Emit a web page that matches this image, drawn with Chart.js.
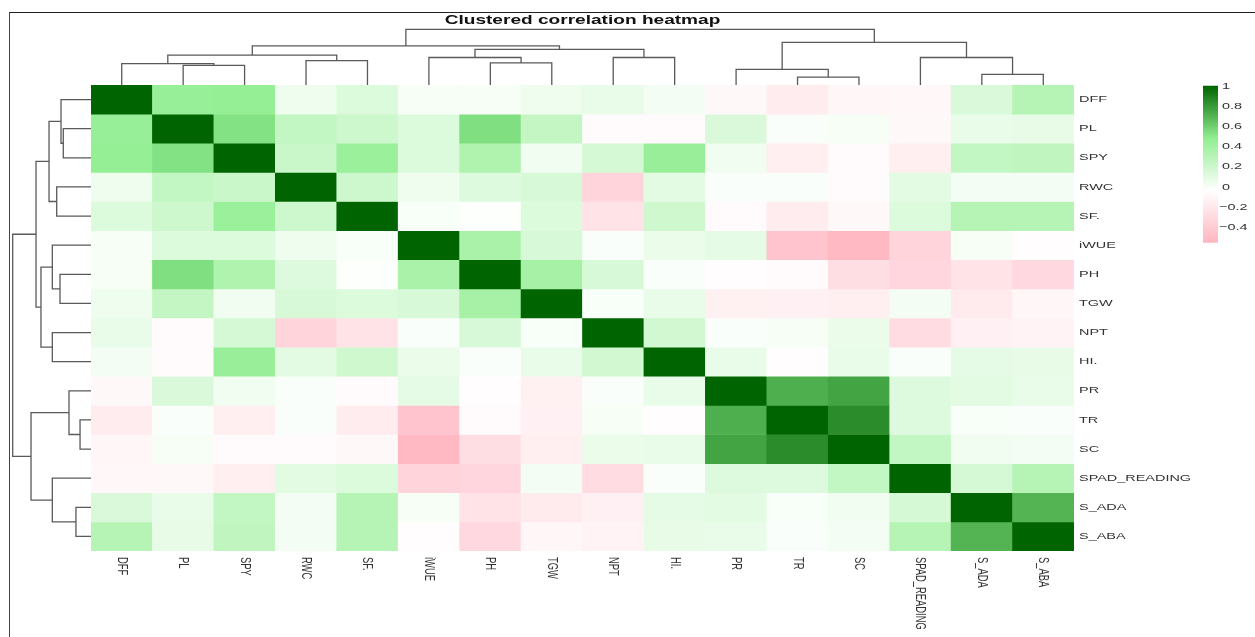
<!DOCTYPE html>
<html>
<head>
<meta charset="utf-8">
<script src="https://cdn.jsdelivr.net/npm/chart.js@4.4.1/dist/chart.umd.min.js"></script>
<style>
  html, body { margin: 0; padding: 0; background: #fff; }
  #page { position: relative; width: 1255px; height: 637px; overflow: hidden; background: #fff; }
  #page canvas { position: absolute; }
  #frame { position: absolute; left: 9px; top: 12px; width: 1300px; height: 700px;
           border-top: 1.5px solid #222; border-left: 1.5px solid #444; }
</style>
</head>
<body>
<div id="page">
  <div id="frame"></div>
  <canvas id="heat" width="1255" height="637" style="left:0;top:0"></canvas>
  <canvas id="dTop" width="983" height="62" style="left:91px;top:23px"></canvas>
  <canvas id="dLeft" width="83" height="466" style="left:8px;top:85px"></canvas>
  <canvas id="legend" width="52" height="170" style="left:1203px;top:80px"></canvas>
</div>
<script>
// ---------------- DATA ----------------
const titleText = 'Clustered correlation heatmap';
const variables = ['DFF','PL','SPY','RWC','SF.','iWUE','PH','TGW','NPT','HI.','PR','TR','SC','SPAD_READING','S_ADA','S_ABA'];

// correlation rows, columns in the same order as `variables`
const rowDFF   = [ 1.00, 0.45, 0.46, 0.04, 0.13, 0.01, 0.01, 0.04, 0.07, 0.02,-0.08,-0.17,-0.10,-0.09, 0.14, 0.31];
const rowPL    = [ 0.45, 1.00, 0.53, 0.25, 0.20, 0.13, 0.54, 0.24,-0.06,-0.06, 0.14,-0.01, 0.01,-0.08, 0.07, 0.08];
const rowSPY   = [ 0.46, 0.53, 1.00, 0.22, 0.43, 0.13, 0.34, 0.03, 0.16, 0.44, 0.03,-0.15,-0.06,-0.15, 0.25, 0.26];
const rowRWC   = [ 0.04, 0.25, 0.22, 1.00, 0.20, 0.04, 0.12, 0.15,-0.34, 0.10,-0.01,-0.01,-0.07, 0.10, 0.02, 0.02];
const rowSF    = [ 0.13, 0.20, 0.43, 0.20, 1.00, 0.00,-0.02, 0.13,-0.23, 0.19,-0.06,-0.17,-0.08, 0.13, 0.31, 0.31];
const rowIWUE  = [ 0.01, 0.13, 0.13, 0.04, 0.00, 1.00, 0.36, 0.15,-0.01, 0.06, 0.09,-0.45,-0.53,-0.34, 0.01,-0.05];
const rowPH    = [ 0.01, 0.54, 0.34, 0.12,-0.02, 0.36, 1.00, 0.38, 0.15,-0.01,-0.05,-0.06,-0.27,-0.32,-0.23,-0.30];
const rowTGW   = [ 0.04, 0.24, 0.03, 0.15, 0.13, 0.15, 0.38, 1.00, 0.00, 0.07,-0.14,-0.13,-0.15, 0.02,-0.18,-0.10];
const rowNPT   = [ 0.07,-0.06, 0.16,-0.34,-0.23,-0.01, 0.15, 0.00, 1.00, 0.18,-0.01, 0.01, 0.06,-0.28,-0.13,-0.12];
const rowHI    = [ 0.02,-0.06, 0.44, 0.10, 0.19, 0.06,-0.01, 0.07, 0.18, 1.00, 0.07,-0.05, 0.07,-0.01, 0.09, 0.08];
const rowPR    = [-0.08, 0.14, 0.03,-0.01,-0.06, 0.09,-0.05,-0.14,-0.01, 0.07, 1.00, 0.72, 0.76, 0.12, 0.10, 0.07];
const rowTR    = [-0.17,-0.01,-0.15,-0.01,-0.17,-0.45,-0.06,-0.13, 0.01,-0.05, 0.72, 1.00, 0.85, 0.12, 0.00,-0.01];
const rowSC    = [-0.10, 0.01,-0.06,-0.07,-0.08,-0.53,-0.27,-0.15, 0.06, 0.07, 0.76, 0.85, 1.00, 0.25, 0.03, 0.02];
const rowSPAD  = [-0.09,-0.08,-0.15, 0.10, 0.13,-0.34,-0.32, 0.02,-0.28,-0.01, 0.12, 0.12, 0.25, 1.00, 0.16, 0.31];
const rowSADA  = [ 0.14, 0.07, 0.25, 0.02, 0.31, 0.01,-0.23,-0.18,-0.13, 0.09, 0.10, 0.00, 0.03, 0.16, 1.00, 0.70];
const rowSABA  = [ 0.31, 0.08, 0.26, 0.02, 0.31,-0.05,-0.30,-0.10,-0.12, 0.08, 0.07,-0.01, 0.02, 0.31, 0.70, 1.00];
const corrRows = [rowDFF,rowPL,rowSPY,rowRWC,rowSF,rowIWUE,rowPH,rowTGW,rowNPT,rowHI,rowPR,rowTR,rowSC,rowSPAD,rowSADA,rowSABA];

// colour scale (range of the data) and palette
const colorRange = [-0.55, 1];
const paletteColors = ['#FFB6C1', '#FFFFFF', '#90EE90', '#006400'];
const legendTicks = [1, 0.8, 0.6, 0.4, 0.2, 0, -0.2, -0.4];

// hierarchical clustering merges: [child A, child B, height (fraction of root)]
// children are variable names or earlier merges 'm1', 'm2', ...
const merges = [
  ['PL', 'SPY', 0.354],          // m1
  ['DFF', 'm1', 0.383],          // m2
  ['RWC', 'SF.', 0.438],         // m3
  ['m2', 'm3', 0.536],           // m4
  ['PH', 'TGW', 0.396],          // m5
  ['iWUE', 'm5', 0.494],         // m6
  ['NPT', 'HI.', 0.494],         // m7
  ['m6', 'm7', 0.639],           // m8
  ['m4', 'm8', 0.702],           // m9
  ['TR', 'SC', 0.140],           // m10
  ['PR', 'm10', 0.281],          // m11
  ['S_ADA', 'S_ABA', 0.192],     // m12
  ['SPAD_READING', 'm12', 0.494],// m13
  ['m11', 'm13', 0.766],         // m14
  ['m9', 'm14', 1.000]           // m15
];

// ---------------- HELPERS ----------------
Chart.defaults.font.family = "'Liberation Sans', Arial, sans-serif";
const TEXT_SX = 1.54;       // horizontal stretch of the original picture's text
const LABEL_FONT = "9.4px 'Liberation Sans', Arial, sans-serif";

function hexToRgb(h) {
  const n = parseInt(h.slice(1), 16);
  return [(n >> 16) & 255, (n >> 8) & 255, n & 255];
}
const paletteRgb = paletteColors.map(hexToRgb);
function corrColor(v) {
  const [lo, hi] = colorRange;
  const t = Math.min(1, Math.max(0, (v - lo) / (hi - lo))) * (paletteRgb.length - 1);
  const i = Math.min(Math.floor(t), paletteRgb.length - 2);
  const f = t - i;
  const a = paletteRgb[i], b = paletteRgb[i + 1];
  const c = a.map((x, k) => Math.round(x + (b[k] - x) * f));
  return `rgb(${c[0]},${c[1]},${c[2]})`;
}
function drawStretched(ctx, text, x, y, rotate) {
  ctx.save();
  ctx.translate(x, y);
  ctx.scale(TEXT_SX, 1);
  if (rotate) ctx.rotate(Math.PI / 2);
  ctx.fillText(text, 0, 0);
  ctx.restore();
}

// dendrogram geometry from merges
function dendroSegments() {
  const nodes = [];
  const lookup = (id) => {
    const idx = variables.indexOf(id);
    if (idx >= 0) return { pos: idx, h: 0 };
    return nodes[parseInt(id.slice(1), 10) - 1];
  };
  const segs = [];
  merges.forEach(([a, b, h]) => {
    const na = lookup(a), nb = lookup(b);
    segs.push([[na.pos, na.h], [na.pos, h], [nb.pos, h], [nb.pos, nb.h]]);
    nodes.push({ pos: (na.pos + nb.pos) / 2, h });
  });
  return segs;
}
const segments = dendroSegments();
const lineStyle = { showLine: true, pointRadius: 0, borderColor: '#5a5a5a', borderWidth: 1.3, tension: 0, fill: false };
const baseOpts = {
  responsive: false, animation: false, events: [],
  plugins: { legend: { display: false }, tooltip: { enabled: false }, title: { display: false } }
};

// ---------------- HEATMAP ----------------
const heatLabels = {
  id: 'heatLabels',
  afterDraw(chart) {
    const { ctx, chartArea, scales } = chart;
    ctx.save();
    // title
    ctx.fillStyle = '#111';
    ctx.font = "bold 12.4px 'Liberation Sans', Arial, sans-serif";
    ctx.textAlign = 'center';
    ctx.textBaseline = 'alphabetic';
    drawStretched(ctx, titleText, (chartArea.left + chartArea.right) / 2, 24, false);
    // row labels (right)
    ctx.fillStyle = '#333';
    ctx.font = LABEL_FONT;
    ctx.textAlign = 'left';
    ctx.textBaseline = 'middle';
    variables.forEach((name, r) => {
      drawStretched(ctx, name, chartArea.right + 5, scales.y.getPixelForValue(r + 0.5), false);
    });
    // column labels (bottom, rotated)
    variables.forEach((name, c) => {
      drawStretched(ctx, name, scales.x.getPixelForValue(c), chartArea.bottom + 6, true);
    });
    ctx.restore();
  }
};

new Chart(document.getElementById('heat'), {
  type: 'bar',
  data: {
    labels: variables,
    datasets: variables.map((name, r) => ({
      label: name,
      data: variables.map(() => 1),
      backgroundColor: corrRows[r].map(corrColor),
      borderWidth: 0,
      barPercentage: 1,
      categoryPercentage: 1,
      stack: 'cells'
    }))
  },
  options: {
    ...baseOpts,
    layout: { padding: { left: 91, top: 85, right: 181, bottom: 86 } },
    scales: {
      x: { type: 'category', stacked: true, display: false },
      y: { type: 'linear', stacked: true, min: 0, max: variables.length, reverse: true, display: false }
    }
  },
  plugins: [heatLabels]
});

// ---------------- TOP DENDROGRAM ----------------
new Chart(document.getElementById('dTop'), {
  type: 'scatter',
  data: {
    datasets: segments.map(seg => ({ ...lineStyle, data: seg.map(([p, h]) => ({ x: p, y: h })) }))
  },
  options: {
    ...baseOpts,
    layout: { padding: 0 },
    scales: {
      x: { type: 'linear', min: -0.5, max: variables.length - 0.5, display: false },
      y: { type: 'linear', min: 0, max: 1.113, display: false }
    }
  }
});

// ---------------- LEFT DENDROGRAM ----------------
new Chart(document.getElementById('dLeft'), {
  type: 'scatter',
  data: {
    datasets: segments.map(seg => ({ ...lineStyle, data: seg.map(([p, h]) => ({ x: h, y: p })) }))
  },
  options: {
    ...baseOpts,
    layout: { padding: 0 },
    scales: {
      x: { type: 'linear', min: 0, max: 1.06, reverse: true, display: false },
      y: { type: 'linear', min: -0.5, max: variables.length - 0.5, reverse: true, display: false }
    }
  }
});

// ---------------- COLOUR LEGEND ----------------
const legendLabels = {
  id: 'legendLabels',
  afterDraw(chart) {
    const { ctx, chartArea, scales } = chart;
    ctx.save();
    ctx.fillStyle = '#333';
    ctx.font = LABEL_FONT;
    ctx.textAlign = 'left';
    ctx.textBaseline = 'middle';
    legendTicks.forEach(v => {
      const txt = String(v).replace('-', '\u2212');
      drawStretched(ctx, txt, chartArea.right + (v < 0 ? 1 : 4), scales.y.getPixelForValue(v), false);
    });
    ctx.restore();
  }
};

new Chart(document.getElementById('legend'), {
  type: 'bar',
  data: {
    labels: ['scale'],
    datasets: [{
      data: [[colorRange[0], colorRange[1]]],
      borderWidth: 0,
      barPercentage: 1,
      categoryPercentage: 1,
      backgroundColor: (c) => {
        const { chart } = c;
        const { ctx, chartArea, scales } = chart;
        if (!chartArea) return '#ccc';
        const yLo = scales.y.getPixelForValue(colorRange[0]);
        const yHi = scales.y.getPixelForValue(colorRange[1]);
        const g = ctx.createLinearGradient(0, yLo, 0, yHi);
        paletteColors.forEach((col, i) => g.addColorStop(i / (paletteColors.length - 1), col));
        return g;
      }
    }]
  },
  options: {
    ...baseOpts,
    layout: { padding: { left: 0, top: 0, right: 37, bottom: 0 } },
    scales: {
      x: { type: 'category', display: false },
      y: { type: 'linear', min: -0.624, max: 1.0594, display: false }
    }
  },
  plugins: [legendLabels]
});
</script>
</body>
</html>
